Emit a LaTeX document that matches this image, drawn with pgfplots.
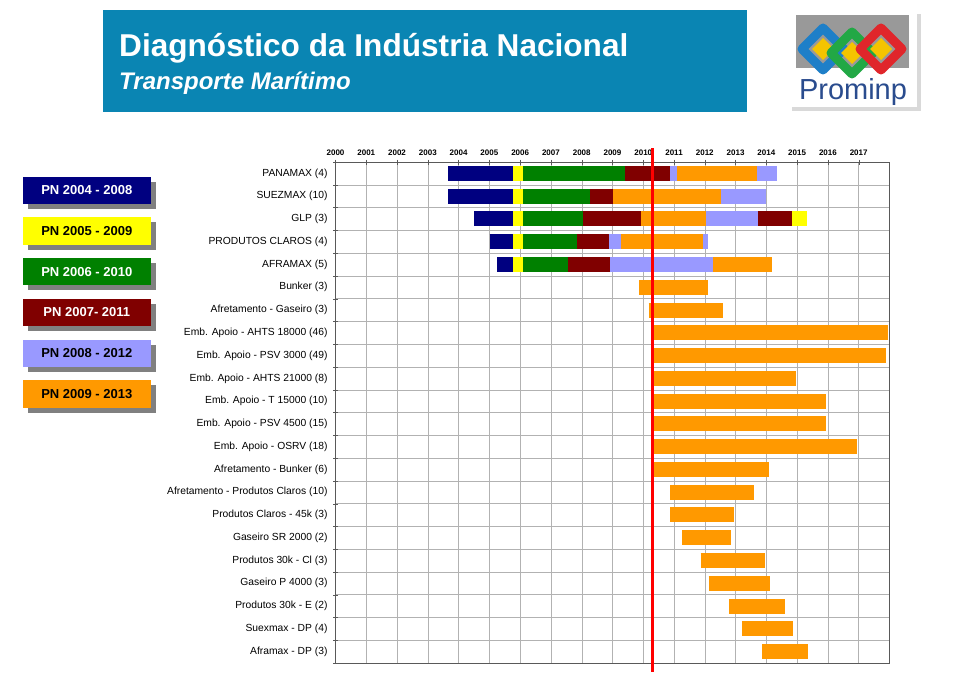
\documentclass[border=0pt]{standalone}
\usepackage{pgfplots}
\pgfplotsset{compat=1.18}
\usepackage{fontspec}
\setmainfont{Liberation Sans}

\definecolor{navyc}{HTML}{000080}
\definecolor{yelc}{HTML}{FFFF00}
\definecolor{grnc}{HTML}{008000}
\definecolor{marc}{HTML}{800000}
\definecolor{lavc}{HTML}{9999FF}
\definecolor{orac}{HTML}{FF9900}
\definecolor{titleblue}{HTML}{0A85B3}
\definecolor{prominp}{HTML}{2A4C8E}
\definecolor{logoblue}{HTML}{1E7FC8}
\definecolor{logogreen}{HTML}{22A845}
\definecolor{logored}{HTML}{E0262B}
\definecolor{logoyel}{HTML}{F5C400}

% one bar segment: colour, row, start, end
\newcommand{\seg}[4]{\addplot[#1, line width=15pt, line cap=butt] coordinates {(#3,#2) (#4,#2)};}

\begin{document}
\begin{tikzpicture}
\useasboundingbox (0,0) rectangle (960pt,-700pt);

% title banner
\fill[titleblue] (103pt,-10pt) rectangle (747pt,-112pt);
\node[anchor=base west, inner sep=0, text=white, font=\fontsize{31.6}{36}\selectfont\bfseries]
  at (119pt,-57pt) {Diagnóstico da Indústria Nacional};
\node[anchor=base west, inner sep=0, text=white, font=\fontsize{24}{28}\selectfont\bfseries\itshape]
  at (119pt,-90pt) {Transporte Marítimo};

% logo
\fill[black!15] (792pt,-14pt) rectangle (921pt,-111pt);
\fill[white] (788pt,-10pt) rectangle (917pt,-107pt);
\fill[black!40] (796pt,-15pt) rectangle (909pt,-68pt);
\foreach \cx/\cy/\cc in {823/-49/logoblue, 852/-53/logogreen, 881/-49/logored}{
  \fill[logoyel] (\cx pt,\cy pt) +(0,11pt) -- +(11pt,0) -- +(0,-11pt) -- +(-11pt,0) -- cycle;
  \draw[\cc, line width=9pt, line join=round]
    (\cx pt,\cy pt) +(0,21pt) -- +(21pt,0) -- +(0,-21pt) -- +(-21pt,0) -- cycle;
}
\node[anchor=base, inner sep=0, text=prominp, font=\fontsize{29}{30}\selectfont]
  at (853pt,-100pt) {Prominp};

% legend boxes
\foreach \c/\t/\tc [count=\i from 0] in {navyc/PN 2004 - 2008/white, yelc/PN 2005 - 2009/black,
    grnc/PN 2006 - 2010/white, marc/PN 2007- 2011/white, lavc/PN 2008 - 2012/black,
    orac/PN 2009 - 2013/black}{
  \pgfmathsetmacro{\yt}{-176.7-40.7*\i}
  \fill[black!50] (27.7pt,\yt pt-5pt) rectangle (156pt,\yt pt-32.3pt);
  \fill[\c] (22.7pt,\yt pt) rectangle (151pt,\yt pt-27.3pt);
  \node[text=\tc, font=\fontsize{13}{15}\selectfont\bfseries] at (86.8pt,\yt pt-13.6pt) {\t};
}

\begin{axis}[
  at={(335.5pt,-663pt)}, anchor=south west,
  scale only axis, width=554pt, height=501pt,
  xmin=2000, xmax=2018, ymin=0.5, ymax=22.5, y dir=reverse,
  clip=false,
  axis line style={draw=black!65},
  tick style={draw=black!65},
  tick align=center, major tick length=5pt,
  xtick={2000,...,2017}, xtick pos=upper, xticklabel pos=upper,
  xticklabel style={font=\fontsize{8}{9}\selectfont\bfseries},
  /pgf/number format/1000 sep={},
  /pgf/number format/assume math mode=true,
  xmajorgrids, ymajorgrids,
  major grid style={draw=black!30},
  ytick={0.5,1.5,...,22.5}, yticklabels={}, ytick pos=left,
  extra y ticks={1,...,22},
  extra y tick style={major tick length=0pt, grid=none},
  extra y tick labels={PANAMAX (4), SUEZMAX (10), GLP (3), PRODUTOS CLAROS (4), AFRAMAX (5),
    Bunker (3), Afretamento - Gaseiro (3), Emb. Apoio - AHTS 18000 (46),
    Emb. Apoio - PSV 3000 (49), Emb. Apoio - AHTS 21000 (8), Emb. Apoio - T 15000 (10),
    Emb. Apoio - PSV 4500 (15), Emb. Apoio - OSRV (18), Afretamento - Bunker (6),
    Afretamento - Produtos Claros (10), Produtos Claros - 45k (3), Gaseiro SR 2000 (2),
    Produtos 30k - Cl (3), Gaseiro P 4000  (3), Produtos 30k - E (2), Suexmax - DP (4),
    Aframax - DP (3)},
  yticklabel style={font=\fontsize{10.3}{12}\selectfont, xshift=-4.5pt},
]
% PANAMAX
\seg{navyc}{1}{2003.66}{2005.76}
\seg{yelc}{1}{2005.76}{2006.09}
\seg{grnc}{1}{2006.09}{2009.41}
\seg{marc}{1}{2009.41}{2010.87}
\seg{lavc}{1}{2010.87}{2011.11}
\seg{orac}{1}{2011.11}{2013.70}
\seg{lavc}{1}{2013.70}{2014.33}
% SUEZMAX
\seg{navyc}{2}{2003.66}{2005.76}
\seg{yelc}{2}{2005.76}{2006.09}
\seg{grnc}{2}{2006.09}{2008.27}
\seg{marc}{2}{2008.27}{2009.03}
\seg{orac}{2}{2009.03}{2012.52}
\seg{lavc}{2}{2012.52}{2014.00}
% GLP
\seg{navyc}{3}{2004.50}{2005.76}
\seg{yelc}{3}{2005.76}{2006.09}
\seg{grnc}{3}{2006.09}{2008.03}
\seg{marc}{3}{2008.03}{2009.94}
\seg{orac}{3}{2009.94}{2012.03}
\seg{lavc}{3}{2012.03}{2013.72}
\seg{marc}{3}{2013.72}{2014.84}
\seg{yelc}{3}{2014.84}{2015.33}
% PRODUTOS CLAROS
\seg{navyc}{4}{2005.01}{2005.76}
\seg{yelc}{4}{2005.76}{2006.09}
\seg{grnc}{4}{2006.09}{2007.84}
\seg{marc}{4}{2007.84}{2008.87}
\seg{lavc}{4}{2008.87}{2009.28}
\seg{orac}{4}{2009.28}{2011.95}
\seg{lavc}{4}{2011.95}{2012.11}
% AFRAMAX
\seg{navyc}{5}{2005.26}{2005.76}
\seg{yelc}{5}{2005.76}{2006.09}
\seg{grnc}{5}{2006.09}{2007.55}
\seg{marc}{5}{2007.55}{2008.93}
\seg{lavc}{5}{2008.93}{2012.27}
\seg{orac}{5}{2012.27}{2014.19}
% PN 2009 - 2013 only
\seg{orac}{6}{2009.87}{2012.11}
\seg{orac}{7}{2010.17}{2012.59}
\seg{orac}{8}{2010.36}{2017.94}
\seg{orac}{9}{2010.36}{2017.89}
\seg{orac}{10}{2010.36}{2014.95}
\seg{orac}{11}{2010.36}{2015.94}
\seg{orac}{12}{2010.36}{2015.94}
\seg{orac}{13}{2010.36}{2016.95}
\seg{orac}{14}{2010.36}{2014.08}
\seg{orac}{15}{2010.87}{2013.60}
\seg{orac}{16}{2010.87}{2012.94}
\seg{orac}{17}{2011.27}{2012.86}
\seg{orac}{18}{2011.86}{2013.94}
\seg{orac}{19}{2012.12}{2014.12}
\seg{orac}{20}{2012.79}{2014.60}
\seg{orac}{21}{2013.20}{2014.86}
\seg{orac}{22}{2013.87}{2015.36}
% today marker
\addplot[red, line width=3pt] coordinates {(2010.29,-0.1) (2010.29,22.9)};
\end{axis}
\end{tikzpicture}
\end{document}
